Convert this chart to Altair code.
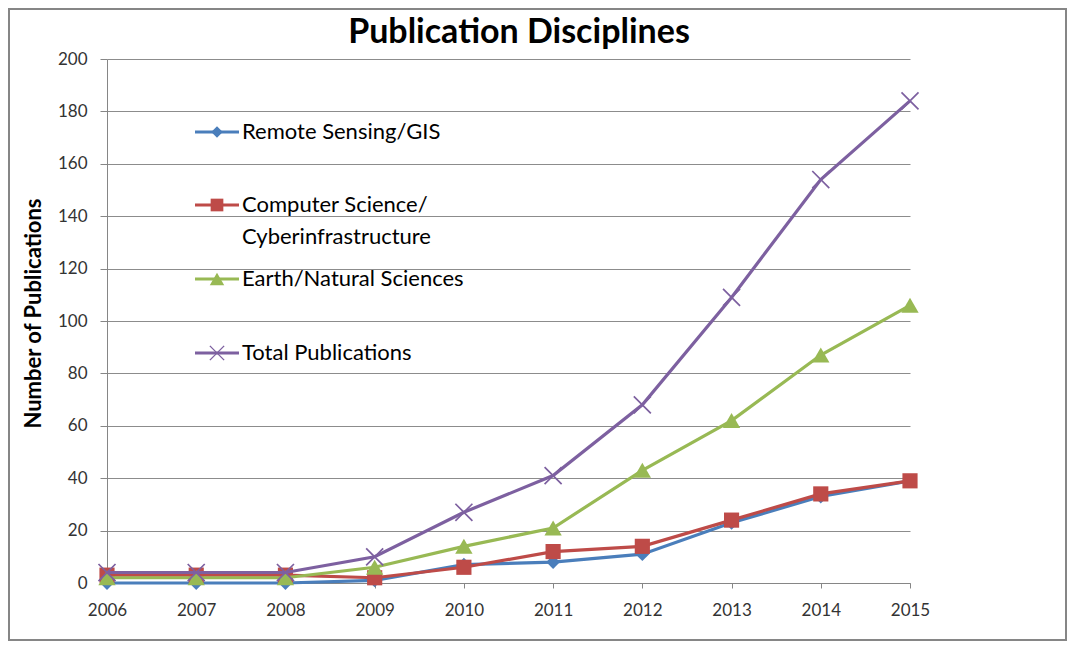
import altair as alt
import pandas as pd

years = [2006, 2007, 2008, 2009, 2010, 2011, 2012, 2013, 2014, 2015]
series_names = ["Remote Sensing/GIS", "Computer Science/ Cyberinfrastructure",
                "Earth/Natural Sciences", "Total Publications"]
legend_labels = [["Remote Sensing/GIS"], ["Computer Science/", "Cyberinfrastructure"],
                 ["Earth/Natural Sciences"], ["Total Publications"]]
remote_sensing = [0, 0, 0, 1, 7, 8, 11, 23, 33, 39]
computer_science = [3, 3, 3, 2, 6, 12, 14, 24, 34, 39]
earth_natural = [2, 2, 2, 6, 14, 21, 43, 62, 87, 106]
total_pubs = [4, 4, 4, 10, 27, 41, 68, 109, 154, 184]
y_ticks = list(range(0, 201, 20))

values = [remote_sensing, computer_science, earth_natural, total_pubs]
colors = ["#4A7EBB", "#BE4B48", "#98B954", "#7D60A0"]
shapes = ["diamond", "square", "triangle-up", "M-1,-1L1,1M-1,1L1,-1"]
sizes = [190, 230, 300, 290]
filled = [True, True, True, False]

rows = []
for name, vals in zip(series_names, values):
    for yr, v in zip(years, vals):
        rows.append({"series": name, "year": yr, "value": v})
df = pd.DataFrame(rows)

FONT = "Lato"
W, H = 803, 524

x_enc = alt.X("year:Q",
              scale=alt.Scale(domain=[years[0], years[-1]], nice=False, zero=False),
              axis=alt.Axis(values=years, format="d", title=None, grid=False,
                            tickSize=5, tickColor="#868686", domainColor="#868686",
                            domainWidth=1, tickWidth=1,
                            labelFont=FONT, labelFontSize=17, labelColor="#333333",
                            labelPadding=14, labelFlush=False))
y_enc = alt.Y("value:Q",
              scale=alt.Scale(domain=[0, 200], nice=False),
              axis=alt.Axis(values=y_ticks, title="Number of Publications", grid=True,
                            gridColor="#8c8c8c", gridWidth=1,
                            tickSize=7, tickColor="#868686", domainColor="#868686",
                            labelFont=FONT, labelFontSize=17, labelColor="#333333",
                            labelPadding=13,
                            titleFont=FONT, titleFontSize=22, titleFontWeight="bold",
                            titleColor="#000000", titleAngle=-90,
                            titleX=-74, titleY=254, titleAlign="center",
                            titleBaseline="middle"))

base = alt.Chart(df)
layers = []
for i, name in enumerate(series_names):
    sub = base.transform_filter(alt.datum.series == name)
    layers.append(sub.mark_line(color=colors[i], strokeWidth=3.2).encode(x=x_enc, y=y_enc))
    layers.append(sub.mark_point(shape=shapes[i], size=sizes[i], filled=filled[i],
                                 color=colors[i], opacity=1,
                                 strokeWidth=1.7 if not filled[i] else 1)
                  .encode(x=x_enc, y=y_enc))

# legend (inside plot, top-left)
one = pd.DataFrame({"k": [0]})
leg_rows = [73, 146, 220, 294]
line_gap = 32
for i, name in enumerate(series_names):
    yy = leg_rows[i]
    c1 = alt.Chart(one)
    layers.append(c1.mark_rule(color=colors[i], strokeWidth=3).encode(
        x=alt.value(88), x2=alt.value(132), y=alt.value(yy)))
    layers.append(c1.mark_point(shape=shapes[i], size=sizes[i] * 0.7, filled=filled[i],
                                color=colors[i], opacity=1,
                                strokeWidth=1.4 if not filled[i] else 1).encode(
        x=alt.value(110), y=alt.value(yy)))
    for j, txt in enumerate(legend_labels[i]):
        tdf = pd.DataFrame({"label": [txt]})
        layers.append(alt.Chart(tdf).mark_text(align="left", baseline="middle",
                                               font=FONT, fontSize=22, color="#000000").encode(
            x=alt.value(135), y=alt.value(yy + j * line_gap), text="label:N"))

# chart title
tdf = pd.DataFrame({"t": ["Publication Disciplines"]})
layers.append(alt.Chart(tdf).mark_text(align="center", baseline="alphabetic", font=FONT,
                                       fontSize=34, fontWeight="bold", color="#000000").encode(
    x=alt.value(412), y=alt.value(-16), text="t:N"))

# outer frame
layers.append(alt.Chart(one).mark_rect(fillOpacity=0, stroke="#868686", strokeWidth=2).encode(
    x=alt.value(-98), x2=alt.value(959), y=alt.value(-50), y2=alt.value(581)))

chart = alt.layer(*layers).properties(
    width=W, height=H,
    autosize=alt.AutoSizeParams(type="none"),
    padding={"left": 99, "top": 51, "right": 159, "bottom": 59},
    background="white",
).configure_view(stroke=None)

chart.save("out.html", embed_options={"renderer": "svg", "actions": False})
